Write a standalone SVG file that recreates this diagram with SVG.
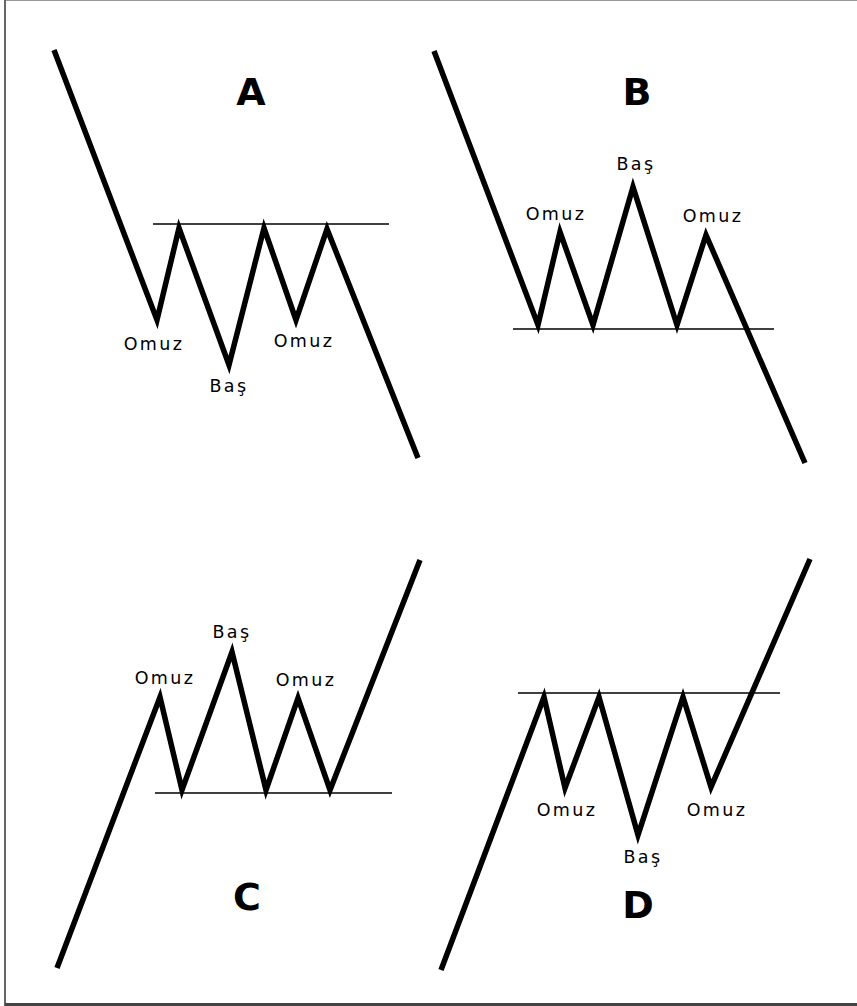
<svg xmlns="http://www.w3.org/2000/svg" width="857" height="1006" viewBox="0 0 857 1006">
<style>
.zig{fill:none;stroke:#000;stroke-width:5.5;stroke-linejoin:miter;stroke-miterlimit:10}
.lvl{stroke:#000;stroke-width:1.5}
.lbl{font-family:"DejaVu Sans",Verdana,sans-serif;font-size:17.5px;letter-spacing:2.4px;fill:#000;text-anchor:middle}
.big{font-family:"DejaVu Sans",Verdana,sans-serif;font-size:38px;font-weight:bold;fill:#000;text-anchor:middle}
</style>
<rect x="0" y="0" width="857" height="1006" fill="#fff"/>
<g id="frame">
<line x1="5" y1="0.5" x2="857" y2="0.5" stroke="#999" stroke-width="1"/>
<line x1="5" y1="0" x2="5" y2="1006" stroke="#666" stroke-width="2"/>
<line x1="5" y1="1004.5" x2="857" y2="1004.5" stroke="#444" stroke-width="3"/>
</g>
<g id="connectors">
<line class="lvl" x1="153" y1="224" x2="389" y2="224"/>
<line class="lvl" x1="513" y1="329" x2="774" y2="329"/>
<line class="lvl" x1="155" y1="793" x2="392" y2="793"/>
<line class="lvl" x1="518" y1="693" x2="780" y2="693"/>
</g>
<g id="panelA">
<polyline class="zig" points="54,50 157,320 179,228 229,365 264,228 296,320 327,229 418,458"/>
<text class="big" x="251" y="105">A</text>
<text class="lbl" x="154" y="350">Omuz</text>
<text class="lbl" x="229" y="392">Baş</text>
<text class="lbl" x="304" y="347">Omuz</text>
</g>
<g id="panelB">
<polyline class="zig" points="434,51 538,325 560,232 593,325 633,187 677,325 706,235 805,463"/>
<text class="big" x="637" y="105">B</text>
<text class="lbl" x="556" y="220">Omuz</text>
<text class="lbl" x="636" y="170">Baş</text>
<text class="lbl" x="713" y="222">Omuz</text>
</g>
<g id="panelC">
<polyline class="zig" points="57,968 160,697 182,790 232,652 266,790 298,698 330,790 420,560"/>
<text class="big" x="247" y="910">C</text>
<text class="lbl" x="165" y="684">Omuz</text>
<text class="lbl" x="232" y="638">Baş</text>
<text class="lbl" x="306" y="686">Omuz</text>
</g>
<g id="panelD">
<polyline class="zig" points="441,970 544,697 565,788 599,697 638,835 683,697 711,787 810,559"/>
<text class="big" x="638" y="918">D</text>
<text class="lbl" x="567" y="816">Omuz</text>
<text class="lbl" x="643" y="863">Baş</text>
<text class="lbl" x="717" y="816">Omuz</text>
</g>
</svg>
